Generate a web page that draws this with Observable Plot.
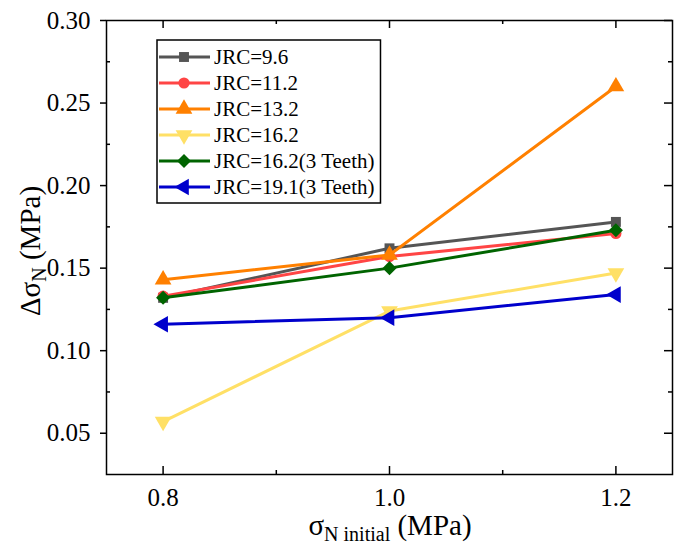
<!DOCTYPE html>
<html>
<head>
<meta charset="utf-8">
<script src="https://cdn.jsdelivr.net/npm/d3@7"></script>
<script src="https://cdn.jsdelivr.net/npm/@observablehq/plot@0.6"></script>
<style>
  html, body { margin: 0; padding: 0; background: #fff; }
  #chart svg { display: block; }
  #chart svg text { font-family: "Liberation Serif", "Times New Roman", "DejaVu Serif", serif; }
</style>
</head>
<body>
<div id="chart"></div>
<script>
// Initial normal stress (MPa) at which each test was run
const sigmaInitial = [0.8, 1.0, 1.2];

// Series names (legend order)
const seriesNames = [
  "JRC=9.6",
  "JRC=11.2",
  "JRC=13.2",
  "JRC=16.2",
  "JRC=16.2(3 Teeth)",
  "JRC=19.1(3 Teeth)"
];

// Normal stress increment Δσ_N (MPa) for each series
const jrc96       = [0.132, 0.162, 0.178];
const jrc112      = [0.133, 0.157, 0.171];
const jrc132      = [0.143, 0.158, 0.260];
const jrc162      = [0.057, 0.124, 0.147];
const jrc162Teeth = [0.132, 0.150, 0.173];
const jrc191Teeth = [0.116, 0.120, 0.134];

const seriesValues = [jrc96, jrc112, jrc132, jrc162, jrc162Teeth, jrc191Teeth];
const seriesColors = ["#555555", "#ff4545", "#ff8000", "#ffe066", "#006400", "#0000cc"];
const seriesSymbols = ["square", "circle", "triangle", "triangle", "square", "triangle"];
const seriesRotate = [0, 0, 0, 180, 45, -90];

// Axis ticks
const xMajorTicks = [0.8, 1.0, 1.2];
const xMinorTicks = [0.9, 1.1];
const yMajorTicks = [0.05, 0.10, 0.15, 0.20, 0.25, 0.30];
const yMinorTicks = [0.075, 0.125, 0.175, 0.225, 0.275];

const FONT = "Liberation Serif, Times New Roman, DejaVu Serif, serif";

const W = 681, H = 547;
const M = { left: 106, right: 9, top: 20, bottom: 73 };
const plotW = W - M.left - M.right;
const plotH = H - M.top - M.bottom;

const rows = seriesNames.flatMap((name, i) =>
  sigmaInitial.map((x, j) => ({ name, i, x, y: seriesValues[i][j] }))
);

const dotRadius = (i) => (seriesSymbols[i] === "triangle" ? 6.2 : 5.6);

const seriesMarks = seriesNames.flatMap((name, i) => {
  const data = rows.filter((r) => r.i === i);
  return [
    Plot.line(data, { x: "x", y: "y", stroke: seriesColors[i], strokeWidth: 3 }),
    Plot.dot(data, {
      x: "x", y: "y",
      symbol: seriesSymbols[i],
      fill: seriesColors[i],
      stroke: "none",
      r: dotRadius(i),
      rotate: seriesRotate[i]
    })
  ];
});

const tickStyle = { stroke: "#000", strokeWidth: 1.5 };
// short tick marks hugging the frame (len > 0 points into the plot)
const xTicksAt = (ticks, edge, len) => Plot.tickX(ticks, {
  x: (d) => d, ...tickStyle,
  ...(edge === "bottom" ? { insetTop: plotH - len } : { insetBottom: plotH - len })
});
const yTicksAt = (ticks, edge, len) => Plot.tickY(ticks, {
  y: (d) => d, ...tickStyle,
  ...(edge === "left"
    ? (len > 0 ? { insetRight: plotW - len } : { insetLeft: len, insetRight: plotW })
    : { insetLeft: plotW - len })
});

const plot = Plot.plot({
  width: W,
  height: H,
  marginLeft: M.left,
  marginRight: M.right,
  marginTop: M.top,
  marginBottom: M.bottom,
  style: { fontFamily: FONT, background: "#fff", color: "#000" },
  x: { domain: [0.75, 1.25] },
  y: { domain: [0.025, 0.30] },
  marks: [
    // tick labels
    Plot.axisX({ anchor: "bottom", ticks: xMajorTicks, tickSize: 0, tickPadding: 14,
      tickFormat: d3.format(".1f"), fontSize: 25, fontFamily: FONT, label: null }),
    Plot.axisY({ anchor: "left", ticks: yMajorTicks, tickSize: 0, tickPadding: 16,
      tickFormat: d3.format(".2f"), fontSize: 25, fontFamily: FONT, label: null }),
    // bottom and top: inward ticks
    xTicksAt(xMajorTicks, "bottom", 8),
    xTicksAt(xMinorTicks, "bottom", 4),
    xTicksAt(xMajorTicks, "top", 8),
    xTicksAt(xMinorTicks, "top", 4),
    // left: outward major ticks, inward minor ticks
    yTicksAt(yMajorTicks, "left", -6),
    yTicksAt(yMinorTicks, "left", 4),
    // right: inward ticks
    yTicksAt(yMajorTicks, "right", 8),
    yTicksAt(yMinorTicks, "right", 4),
    ...seriesMarks,
    Plot.frame({ stroke: "#000", strokeWidth: 1.5 })
  ]
});

document.getElementById("chart").appendChild(plot);

const svg = d3.select(plot);

// Axis titles with subscripts
const xTitle = svg.append("text")
  .attr("x", 390).attr("y", 535)
  .attr("text-anchor", "middle")
  .attr("font-family", FONT).attr("font-size", 29).attr("fill", "#000");
xTitle.append("tspan").text("σ");
xTitle.append("tspan").attr("font-size", 20).attr("dy", 6).text("N initial");
xTitle.append("tspan").attr("dy", -6).text(" (MPa)");

const yTitle = svg.append("text")
  .attr("transform", "translate(40,251) rotate(-90)")
  .attr("text-anchor", "middle")
  .attr("font-family", FONT).attr("font-size", 29).attr("fill", "#000");
yTitle.append("tspan").text("Δσ");
yTitle.append("tspan").attr("font-size", 20).attr("dy", 6).text("N");
yTitle.append("tspan").attr("dy", -6).text(" (MPa)");

// Legend box in the upper-left of the plot area
const legend = svg.append("g").attr("font-family", FONT).attr("text-anchor", "start");
const rowY0 = 57, rowStep = 26;
const legendRows = legend.selectAll("g.row").data(seriesNames).join("g")
  .attr("class", "row")
  .attr("transform", (d, i) => `translate(0,${rowY0 + i * rowStep})`);
legendRows.append("line")
  .attr("x1", 159).attr("x2", 210).attr("y1", 0).attr("y2", 0)
  .attr("stroke", (d, i) => seriesColors[i]).attr("stroke-width", 3);
const symbolTypes = { square: d3.symbolSquare, circle: d3.symbolCircle, triangle: d3.symbolTriangle };
legendRows.append("path")
  .attr("d", (d, i) => d3.symbol(symbolTypes[seriesSymbols[i]], Math.PI * Math.pow(dotRadius(i), 2))())
  .attr("transform", (d, i) => `translate(184,0) rotate(${seriesRotate[i]})`)
  .attr("fill", (d, i) => seriesColors[i]);
const legendTexts = legendRows.append("text")
  .attr("x", 214).attr("y", 0).attr("dy", "0.35em")
  .attr("text-anchor", "start")
  .attr("font-size", 21).attr("fill", "#000")
  .text((d) => d);
let maxRight = 0;
legendTexts.each(function () {
  const b = this.getBBox();
  maxRight = Math.max(maxRight, b.x + b.width);
});
legend.insert("rect", ":first-child")
  .attr("x", 157).attr("y", 40)
  .attr("width", maxRight + 6 - 157).attr("height", 163)
  .attr("fill", "#fff").attr("stroke", "#000").attr("stroke-width", 1.5);
</script>
</body>
</html>
